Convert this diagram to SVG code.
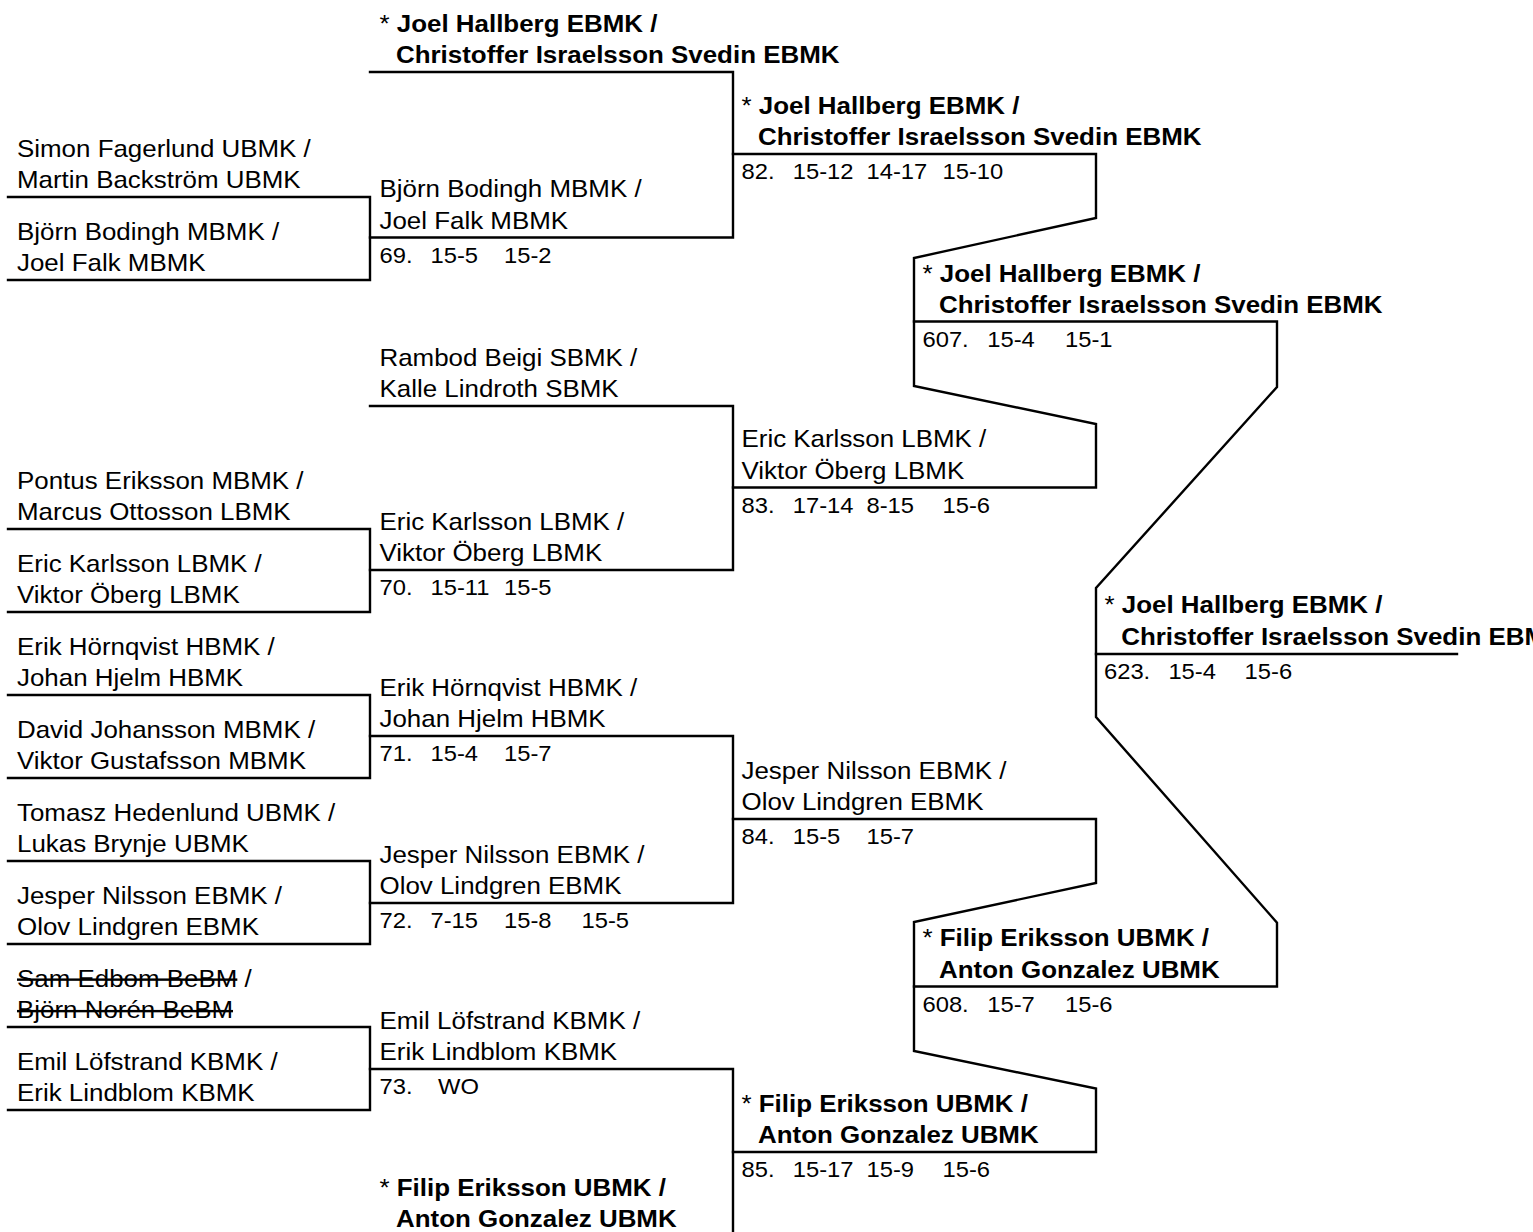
<svg xmlns="http://www.w3.org/2000/svg" width="1533" height="1232" viewBox="0 0 1533 1232">
<style>
.ln{fill:none;stroke:#000;stroke-width:2.4;stroke-linejoin:miter;stroke-linecap:square}
text{font-family:"Liberation Sans",Arial,Helvetica,sans-serif;font-size:24px;fill:#000}
.b{font-weight:bold}
text.s{font-size:22px}
.st{text-decoration:line-through}
</style>
<rect width="1533" height="1232" fill="#fff"/>
<g id="connectors">
<path class="ln" d="M8,197 H370 V280 H8"/>
<path class="ln" d="M8,529 H370 V612 H8"/>
<path class="ln" d="M8,695 H370 V778 H8"/>
<path class="ln" d="M8,861 H370 V944 H8"/>
<path class="ln" d="M8,1027 H370 V1110 H8"/>
<path class="ln" d="M370,72 H733 V237.5 H370"/>
<path class="ln" d="M370,406 H733 V570 H370"/>
<path class="ln" d="M370,736 H733 V903 H370"/>
<path class="ln" d="M370,1069 H733 V1236 H370"/>
<path class="ln" d="M733,154 H1096 V218 L914,258 V386 L1096,424 V487.5 H733"/>
<path class="ln" d="M733,819 H1096 V883 L914,922 V1051 L1096,1088.5 V1152 H733"/>
<path class="ln" d="M914,321.5 H1277 V387 L1096,588 V717 L1277,922.7 V986.5 H914"/>
<path class="ln" d="M1096,654 H1457"/>
</g>
<g transform="scale(1.08 1)">
<g id="r1-simon"><text x="15.74" y="157">Simon Fagerlund UBMK /</text><text x="15.74" y="188.5">Martin Backström UBMK</text></g>
<g id="r1-bjorn"><text x="15.74" y="240">Björn Bodingh MBMK /</text><text x="15.74" y="271.5">Joel Falk MBMK</text></g>
<g id="r1-pontus"><text x="15.74" y="489">Pontus Eriksson MBMK /</text><text x="15.74" y="520.5">Marcus Ottosson LBMK</text></g>
<g id="r1-eric"><text x="15.74" y="572">Eric Karlsson LBMK /</text><text x="15.74" y="603.5">Viktor Öberg LBMK</text></g>
<g id="r1-erik"><text x="15.74" y="655">Erik Hörnqvist HBMK /</text><text x="15.74" y="686.5">Johan Hjelm HBMK</text></g>
<g id="r1-david"><text x="15.74" y="738">David Johansson MBMK /</text><text x="15.74" y="769.5">Viktor Gustafsson MBMK</text></g>
<g id="r1-tomasz"><text x="15.74" y="821">Tomasz Hedenlund UBMK /</text><text x="15.74" y="852.5">Lukas Brynje UBMK</text></g>
<g id="r1-jesper"><text x="15.74" y="904">Jesper Nilsson EBMK /</text><text x="15.74" y="935.5">Olov Lindgren EBMK</text></g>
<g id="r1-sam"><text x="15.74" y="987"><tspan class="st" text-decoration="line-through">Sam Edbom BeBM</tspan> /</text><text x="15.74" y="1018.5" class="st" text-decoration="line-through">Björn Norén BeBM</text></g>
<g id="r1-emil"><text x="15.74" y="1070">Emil Löfstrand KBMK /</text><text x="15.74" y="1101.5">Erik Lindblom KBMK</text></g>

<g id="r2-joel"><text x="351.39" y="32">* <tspan class="b">Joel Hallberg EBMK /</tspan></text><text class="b" x="366.67" y="63.5">Christoffer Israelsson Svedin EBMK</text></g>
<g id="m69"><text x="351.39" y="197.5">Björn Bodingh MBMK /</text><text x="351.39" y="229">Joel Falk MBMK</text>
<text class="s" x="351.39" y="263">69.</text><text class="s" x="398.61" y="263">15-5</text><text class="s" x="466.67" y="263">15-2</text></g>
<g id="r2-rambod"><text x="351.39" y="366">Rambod Beigi SBMK /</text><text x="351.39" y="397.5">Kalle Lindroth SBMK</text></g>
<g id="m70"><text x="351.39" y="530">Eric Karlsson LBMK /</text><text x="351.39" y="561.5">Viktor Öberg LBMK</text>
<text class="s" x="351.39" y="595.5">70.</text><text class="s" x="398.61" y="595.5">15-11</text><text class="s" x="466.67" y="595.5">15-5</text></g>
<g id="m71"><text x="351.39" y="696">Erik Hörnqvist HBMK /</text><text x="351.39" y="727.5">Johan Hjelm HBMK</text>
<text class="s" x="351.39" y="761.5">71.</text><text class="s" x="398.61" y="761.5">15-4</text><text class="s" x="466.67" y="761.5">15-7</text></g>
<g id="m72"><text x="351.39" y="863">Jesper Nilsson EBMK /</text><text x="351.39" y="894.5">Olov Lindgren EBMK</text>
<text class="s" x="351.39" y="928.5">72.</text><text class="s" x="398.61" y="928.5">7-15</text><text class="s" x="466.67" y="928.5">15-8</text><text class="s" x="538.43" y="928.5">15-5</text></g>
<g id="m73"><text x="351.39" y="1029">Emil Löfstrand KBMK /</text><text x="351.39" y="1060.5">Erik Lindblom KBMK</text>
<text class="s" x="351.39" y="1094.5">73.</text><text class="s" x="405.56" y="1094.5">WO</text></g>
<g id="r2-filip"><text x="351.39" y="1196">* <tspan class="b">Filip Eriksson UBMK /</tspan></text><text class="b" x="366.67" y="1227">Anton Gonzalez UBMK</text></g>

<g id="m82"><text x="686.57" y="114">* <tspan class="b">Joel Hallberg EBMK /</tspan></text><text class="b" x="701.85" y="145.5">Christoffer Israelsson Svedin EBMK</text>
<text class="s" x="686.57" y="179.5">82.</text><text class="s" x="734.07" y="179.5">15-12</text><text class="s" x="802.31" y="179.5">14-17</text><text class="s" x="872.69" y="179.5">15-10</text></g>
<g id="m83"><text x="686.57" y="447.5">Eric Karlsson LBMK /</text><text x="686.57" y="479">Viktor Öberg LBMK</text>
<text class="s" x="686.57" y="513">83.</text><text class="s" x="734.07" y="513">17-14</text><text class="s" x="802.31" y="513">8-15</text><text class="s" x="872.69" y="513">15-6</text></g>
<g id="m84"><text x="686.57" y="779">Jesper Nilsson EBMK /</text><text x="686.57" y="810.5">Olov Lindgren EBMK</text>
<text class="s" x="686.57" y="844.5">84.</text><text class="s" x="734.07" y="844.5">15-5</text><text class="s" x="802.31" y="844.5">15-7</text></g>
<g id="m85"><text x="686.57" y="1112">* <tspan class="b">Filip Eriksson UBMK /</tspan></text><text class="b" x="701.85" y="1143.5">Anton Gonzalez UBMK</text>
<text class="s" x="686.57" y="1177.5">85.</text><text class="s" x="734.07" y="1177.5">15-17</text><text class="s" x="802.31" y="1177.5">15-9</text><text class="s" x="872.69" y="1177.5">15-6</text></g>

<g id="m607"><text x="854.17" y="282">* <tspan class="b">Joel Hallberg EBMK /</tspan></text><text class="b" x="869.44" y="313">Christoffer Israelsson Svedin EBMK</text>
<text class="s" x="854.17" y="347">607.</text><text class="s" x="914.17" y="347">15-4</text><text class="s" x="986.11" y="347">15-1</text></g>
<g id="m608"><text x="854.17" y="946.5">* <tspan class="b">Filip Eriksson UBMK /</tspan></text><text class="b" x="869.44" y="978">Anton Gonzalez UBMK</text>
<text class="s" x="854.17" y="1012">608.</text><text class="s" x="914.17" y="1012">15-7</text><text class="s" x="986.11" y="1012">15-6</text></g>

<g id="m623"><text x="1022.69" y="613.5">* <tspan class="b">Joel Hallberg EBMK /</tspan></text><text class="b" x="1038.2" y="645.5">Christoffer Israelsson Svedin EBMK</text>
<text class="s" x="1022.22" y="679.5">623.</text><text class="s" x="1081.85" y="679.5">15-4</text><text class="s" x="1152.41" y="679.5">15-6</text></g>
</g>
</svg>
